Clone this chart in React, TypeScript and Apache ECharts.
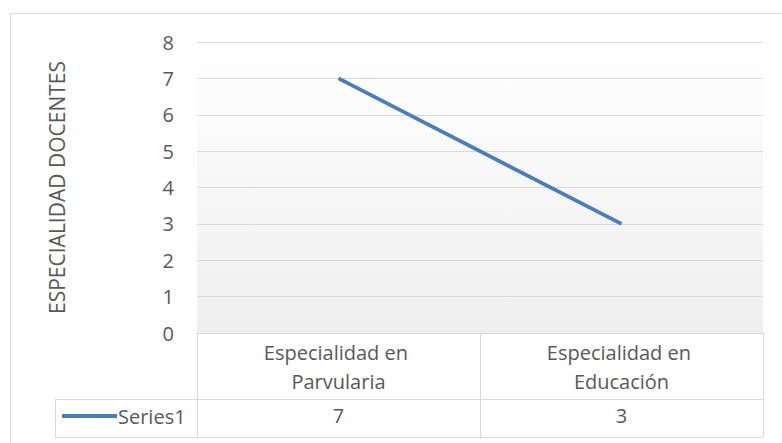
import React, { useEffect, useRef } from "react";
import * as echarts from "echarts";

const categories = ["Especialidad en Parvularia", "Especialidad en Educación"];
const seriesName = "Series1";
const seriesValues = [7, 3];
const yTicks = { min: 0, max: 8, interval: 1 };
const yAxisTitle = "ESPECIALIDAD DOCENTES";

const FONT = "Open Sans";
const TEXT = "#595959";
const GRID = "#d9d9d9";
const LINE = "#4a7ebb";

export default function App() {
  const ref = useRef<HTMLDivElement>(null);
  useEffect(() => {
    document.body.style.margin = "0";
    const chart = echarts.init(ref.current!, null, { renderer: "svg" });
    const gridLeft = 197;
    const gridRight = 19;
    const gridTop = 42;
    const gridBottom = 110;
    const axisY = 443 - gridBottom;
    chart.setOption({
      animation: false,
      backgroundColor: "#ffffff",
      textStyle: { fontFamily: FONT },
      grid: {
        left: gridLeft,
        right: gridRight,
        top: gridTop,
        bottom: gridBottom,
        show: true,
        borderWidth: 0,
        backgroundColor: new echarts.graphic.LinearGradient(0, 0, 0, 1, [
          { offset: 0, color: "#ffffff" },
          { offset: 1, color: "#efefef" },
        ]),
      },
      legend: {
        left: 62,
        top: 406,
        itemWidth: 55,
        itemHeight: 14,
        itemGap: 0,
        padding: 0,
        textStyle: { fontFamily: FONT, fontSize: 20, color: TEXT, padding: [0, 0, 0, -4] },
        data: [{ name: seriesName, icon: "path://M0,6 L55,6 L55,10 L0,10 Z" }],
      },
      xAxis: [
        {
          type: "category",
          data: categories,
          boundaryGap: true,
          axisLine: { show: true, lineStyle: { color: GRID, width: 1 } },
          axisTick: { show: true, length: 104, lineStyle: { color: GRID, width: 1 } },
          axisLabel: {
            fontFamily: FONT,
            fontSize: 20,
            color: TEXT,
            margin: 5,
            lineHeight: 29,
            width: 180,
            overflow: "break",
            interval: 0,
          },
          splitLine: { show: false },
        },
        {
          type: "category",
          position: "bottom",
          data: seriesValues.map(String),
          boundaryGap: true,
          axisLine: { show: false },
          axisTick: { show: false },
          axisLabel: {
            fontFamily: FONT,
            fontSize: 20,
            color: TEXT,
            margin: 72,
            interval: 0,
          },
        },
      ],
      yAxis: {
        type: "value",
        min: yTicks.min,
        max: yTicks.max,
        interval: yTicks.interval,
        name: yAxisTitle,
        nameLocation: "middle",
        nameRotate: 90,
        nameGap: 130,
        nameTextStyle: { fontFamily: FONT, fontSize: 21, color: TEXT },
        axisLine: { show: false },
        axisTick: { show: false },
        axisLabel: { fontFamily: FONT, fontSize: 20, color: TEXT, margin: 23 },
        splitLine: { show: true, lineStyle: { color: GRID, width: 1 } },
      },
      series: [
        {
          name: seriesName,
          type: "line",
          data: seriesValues,
          symbol: "none",
          lineStyle: { color: LINE, width: 3.75 },
          itemStyle: { color: LINE },
        },
      ],
      graphic: [
        {
          type: "rect",
          shape: { x: 10.5, y: 13.5, width: 800, height: 500 },
          style: { fill: "none", stroke: GRID, lineWidth: 1 },
          silent: true,
        },
        {
          type: "line",
          shape: { x1: 55, y1: axisY + 66.5, x2: 782 - gridRight, y2: axisY + 66.5 },
          style: { stroke: GRID, lineWidth: 1 },
        },
        {
          type: "line",
          shape: { x1: 55, y1: axisY + 104.5, x2: 782 - gridRight, y2: axisY + 104.5 },
          style: { stroke: GRID, lineWidth: 1 },
        },
        {
          type: "line",
          shape: { x1: 55.5, y1: axisY + 66, x2: 55.5, y2: axisY + 105 },
          style: { stroke: GRID, lineWidth: 1 },
        },
      ],
    });
    return () => chart.dispose();
  }, []);
  return <div ref={ref} style={{ width: 782, height: 443 }} />;
}
